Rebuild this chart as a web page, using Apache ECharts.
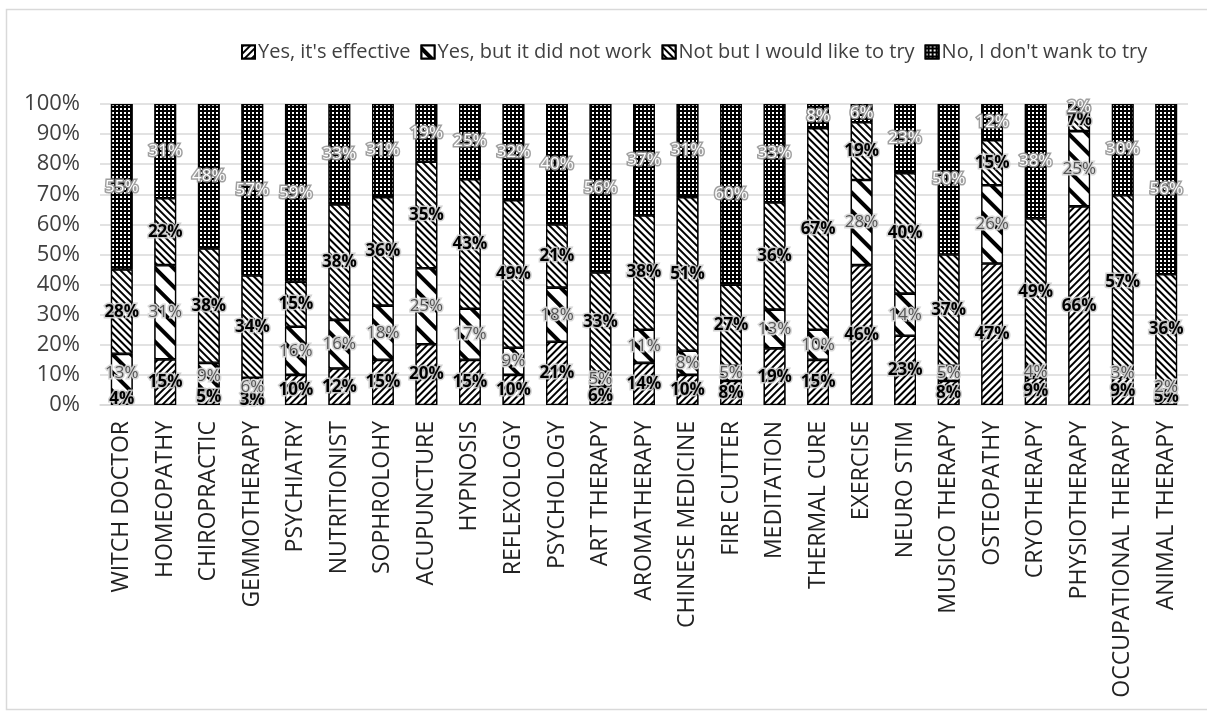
<!DOCTYPE html>
<html>
<head>
<meta charset="utf-8">
<script src="https://cdn.jsdelivr.net/npm/echarts@6/dist/echarts.min.js"></script>
<style>
html,body{margin:0;padding:0;background:#fff;}
#c{width:1207px;height:713px;}
</style>
</head>
<body>
<div id="c"></div>
<script>
const categories = ["WITCH DOCTOR","HOMEOPATHY","CHIROPRACTIC","GEMMOTHERAPY","PSYCHIATRY","NUTRITIONIST","SOPHROLOHY","ACUPUNCTURE","HYPNOSIS","REFLEXOLOGY","PSYCHOLOGY","ART THERAPY","AROMATHERAPY","CHINESE MEDICINE","FIRE CUTTER","MEDITATION","THERMAL CURE","EXERCISE","NEURO STIM","MUSICO THERAPY","OSTEOPATHY","CRYOTHERAPY","PHYSIOTHERAPY","OCCUPATIONAL THERAPY","ANIMAL THERAPY"];
const seriesNames = ["Yes, it's effective","Yes, but it did not work","Not but I would like to try","No, I don't wank to try"];
const yesEffective   = [4,15,5,3,10,12,15,20,15,10,21,6,14,10,8,19,15,46,23,8,47,9,66,9,5];
const yesNotWork     = [13,31,9,6,16,16,18,25,17,9,18,5,11,8,5,13,10,28,14,5,26,4,25,3,2];
const wouldLikeTry   = [28,22,38,34,15,38,36,35,43,49,21,33,38,51,27,36,67,19,40,37,15,49,7,57,36];
const dontWantTry    = [55,31,48,57,59,33,31,19,25,32,40,56,37,31,60,33,8,6,23,50,12,38,2,30,56];
const yTicks = [0,10,20,30,40,50,60,70,80,90,100];

const raw = [yesEffective, yesNotWork, wouldLikeTry, dontWantTry];
const totals = categories.map((_, i) => raw.reduce((s, a) => s + a[i], 0));

const FONT = 'Open Sans';
const decals = [
  {symbol:'rect', color:'#000', backgroundColor:'#fff', dashArrayX:[1,0], dashArrayY:[1.8,2.6], rotation:-Math.PI/4, symbolSize:1},
  {symbol:'rect', color:'#000', backgroundColor:'#fff', dashArrayX:[1,0], dashArrayY:[4,9], rotation:Math.PI/4, symbolSize:1},
  {symbol:'rect', color:'#000', backgroundColor:'#fff', dashArrayX:[1,0], dashArrayY:[1.3,3], rotation:Math.PI/4, symbolSize:1},
  {symbol:'rect', color:'#fff', backgroundColor:'#000', dashArrayX:[1.2,2], dashArrayY:[1.2,2], symbolSize:1}
];
const labelStyles = [
  {color:'#000', fontWeight:'bold', textBorderColor:'rgba(205,205,205,0.9)', textBorderWidth:3},
  {color:'#555', fontWeight:'normal', textBorderColor:'rgba(215,215,215,0.95)', textBorderWidth:3},
  {color:'#000', fontWeight:'bold', textBorderColor:'rgba(205,205,205,0.9)', textBorderWidth:3},
  {color:'#fff', fontWeight:'normal', textBorderColor:'rgba(150,150,150,0.9)', textBorderWidth:3}
];

const series = raw.map((arr, k) => ({
  name: seriesNames[k],
  type: 'bar',
  stack: 'total',
  barWidth: '50%',
  data: arr.map((v, i) => ({value: v / totals[i] * 100, raw: v})),
  itemStyle: {color: k === 3 ? '#000' : '#fff', borderColor:'#000', borderWidth:1.3, decal: decals[k]},
  label: Object.assign({
    show: true, position: 'inside', fontFamily: FONT, fontSize: 17,
    formatter: p => p.data.raw + '%'
  }, labelStyles[k])
}));

const chart = echarts.init(document.getElementById('c'), null, {renderer:'canvas'});
chart.setOption({
  animation: false,
  backgroundColor: '#fff',
  graphic: [{type:'rect', shape:{x:6.5, y:9.5, width:1210, height:700}, style:{fill:'none', stroke:'#d9d9d9', lineWidth:1.5}, silent:true, z:-1}],
  legend: {
    top: 37, left: 236, itemGap: 10, itemWidth: 13, itemHeight: 13,
    icon: 'rect',
    textStyle: {fontFamily:FONT, fontSize: 20, color:'#404040', padding:[0,0,0,-2]},
    data: seriesNames
  },
  grid: {left: 100, right: 19, top: 104, bottom: 308, containLabel: false},
  xAxis: {
    type: 'category', data: categories,
    axisLine: {lineStyle:{color:'#d9d9d9', width:1.5}},
    axisTick: {show:false},
    axisLabel: {rotate: 90, interval: 0, fontFamily:FONT, fontSize: 23, color:'#222', margin: 16}
  },
  yAxis: {
    type: 'value', min: yTicks[0], max: yTicks[yTicks.length-1], interval: 10,
    axisLabel: {formatter: '{value}%', fontFamily:FONT, fontSize: 22, color:'#404040', margin: 20},
    splitLine: {lineStyle:{color:'#d9d9d9', width:1.5}},
    axisLine: {show:false}, axisTick: {show:false}
  },
  series: series
});
</script>
</body>
</html>
